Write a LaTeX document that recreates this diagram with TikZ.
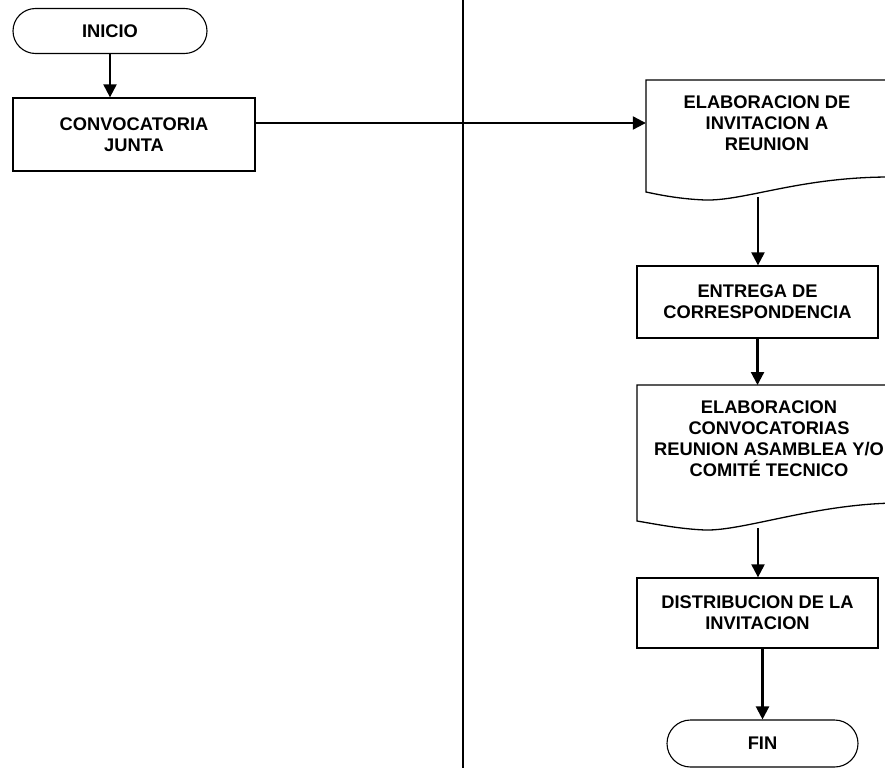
\documentclass[tikz,border=0pt]{standalone}
\usepackage{fontspec}
\setmainfont{Liberation Sans}
\usetikzlibrary{arrows.meta,shapes.misc}
\begin{document}
\begin{tikzpicture}[x=1pt,y=-1pt,
  every node/.style={font=\fontsize{18.3}{21}\selectfont\bfseries, align=center, inner sep=0pt},
  term/.style={rounded rectangle, draw, line width=1.1pt},
  proc/.style={rectangle, draw, line width=1.3pt},
  docshape/.style={draw, line width=1.3pt},
  flow/.style={line width=2.2pt, -{Triangle[length=13pt,width=13pt]}}]
\useasboundingbox (0,0) rectangle (885,768);
\fill[white] (0,0) rectangle (885,768);
% lane separator
\draw[line width=2.4pt] (463,0) -- (463,768);
% nodes
\node[term, minimum width=194pt, minimum height=45pt] (ini) at (110,31) {INICIO};
\node[proc, minimum width=242pt, minimum height=73pt] (conv) at (134,134.5) {CONVOCATORIA\\JUNTA};
% document 1
\draw[docshape] (646,80) -- (890,80) -- (890,177) .. controls (800,177) and (745,201) .. (705,200) .. controls (680,199) and (660,195) .. (646,192) -- cycle;
\node[minimum width=242pt] (doc1) at (767,123) {ELABORACION DE\\INVITACION A\\REUNION};
\coordinate (d1b) at (758,197);
\node[proc, minimum width=241pt, minimum height=72pt] (ent) at (757.5,302) {ENTREGA DE\\CORRESPONDENCIA};
% document 2
\draw[docshape] (637,385) -- (905,385) -- (905,503) .. controls (820,502) and (745,531) .. (705,530) .. controls (680,529) and (655,524) .. (637,521) -- cycle;
\node[minimum width=264pt] (doc2) at (769,438.5) {ELABORACION\\CONVOCATORIAS\\REUNION ASAMBLEA Y/O\\COMITÉ TECNICO};
\coordinate (d2t) at (757.5,385);
\coordinate (d2b) at (758,528);
\node[proc, minimum width=241pt, minimum height=70pt] (dist) at (757.5,613) {DISTRIBUCION DE LA\\INVITACION};
\node[term, minimum width=191pt, minimum height=47pt] (fin) at (762.5,743.5) {FIN};
% connectors
\draw[flow] (ini.south) -- (conv.north -| ini.south);
\draw[flow] (conv.east |- doc1.west) -- (doc1.west);
\draw[flow] (d1b) -- (d1b |- ent.north);
\draw[flow] (ent.south) -- (d2t);
\draw[flow] (d2b) -- (d2b |- dist.north);
\draw[flow] (fin.north |- dist.south) -- (fin.north);
\end{tikzpicture}
\end{document}
